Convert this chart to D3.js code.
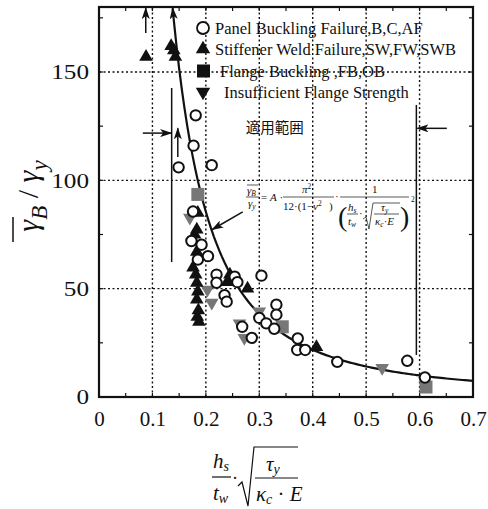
<!DOCTYPE html>
<html>
<head>
<meta charset="utf-8">
<script src="https://cdn.jsdelivr.net/npm/d3@7"></script>
<style>
  body { margin: 0; background: #fff; }
  svg text { font-family: "Liberation Serif", "Times New Roman", serif !important; fill: #111; }
  svg text.cjk { font-family: "Noto Sans CJK JP", sans-serif !important; }
</style>
</head>
<body>
<div id="chart"></div>
<script>
// Panel buckling failure (open circles)
const panelX = [0.181, 0.177, 0.149, 0.211, 0.176, 0.173, 0.192, 0.185, 0.204, 0.220, 0.220, 0.254, 0.259, 0.235, 0.239, 0.304, 0.332, 0.332, 0.300, 0.313, 0.328, 0.268, 0.286, 0.372, 0.371, 0.386, 0.446, 0.577, 0.610];
const panelY = [130, 116, 106, 107, 85.6, 72, 70.3, 63.4, 65, 56.5, 52.7, 55.5, 53, 47, 44, 56, 42.6, 38, 36.5, 34, 31.5, 32.4, 27.3, 27, 21.7, 21.7, 16.2, 16.7, 9];
// Stiffener weld failure (black up triangles)
const weldX = [0.088, 0.135, 0.143, 0.140, 0.185, 0.183, 0.179, 0.183, 0.176, 0.181, 0.183, 0.185, 0.183, 0.186, 0.184, 0.187, 0.245, 0.240, 0.278, 0.407];
const weldY = [157, 162, 157, 160, 85, 77.3, 75, 67, 59.7, 56.5, 52.7, 48.6, 45, 40, 37, 34.7, 56.5, 53, 50, 23];
// Flange buckling (grey squares)
const flangeX = [0.185, 0.343, 0.612];
const flangeY = [93.5, 32.4, 4.6];
// Insufficient flange strength (grey down triangles)
const insuffX = [0.170, 0.203, 0.211, 0.300, 0.263, 0.272, 0.530];
const insuffY = [82.8, 49.5, 43.5, 39.5, 34, 27.3, 13.4];

const xTicks = [0, 0.1, 0.2, 0.3, 0.4, 0.5, 0.6, 0.7];
const yTicks = [0, 50, 100, 150];
const legendLabels = ["Panel Buckling Failure,B,C,AF", "Stiffener Weld Failure,SW,FW,SWB", "Flange Buckling ,FB,OB", "Insufficient Flange Strength"];
// fitted curve  y = k / x^2 + c
const curveK = 3.4, curveC = 0.5;

const W = 488, H = 509;
const svg = d3.select('#chart').append('svg')
  .attr('width', W).attr('height', H)
  .attr('viewBox', [0, 0, W, H]);

const defs = svg.append('defs');
defs.append('marker')
  .attr('id', 'arrow')
  .attr('viewBox', '0 0 12 8')
  .attr('refX', 11).attr('refY', 4)
  .attr('markerWidth', 12).attr('markerHeight', 8)
  .attr('markerUnits', 'userSpaceOnUse')
  .attr('orient', 'auto')
  .append('path').attr('d', 'M0,0 L12,4 L0,8 L3,4 Z').attr('fill', '#111');

const x = d3.scaleLinear().domain([0, 0.7]).range([99, 473]);
const y = d3.scaleLinear().domain([0, 180]).range([397, 7]);

// grid
const grid = svg.append('g').attr('stroke', '#111').attr('stroke-width', 1.4).attr('stroke-dasharray', '2,2.5');
grid.selectAll('.gx').data(xTicks.slice(1, -1)).enter().append('line')
  .attr('x1', d => x(d)).attr('x2', d => x(d)).attr('y1', y(0)).attr('y2', y(180));
grid.selectAll('.gy').data(yTicks.slice(1)).enter().append('line')
  .attr('x1', x(0)).attr('x2', x(0.7)).attr('y1', d => y(d)).attr('y2', d => y(d));

// axes
const minorX = d3.range(0.05, 0.7, 0.05);
const minorY = d3.range(25, 180, 25);
svg.append('g').attr('transform', `translate(0,${y(0)})`)
  .call(d3.axisBottom(x).tickValues(xTicks).tickSize(0).tickPadding(14).tickFormat(d => d === 0 ? '0' : d3.format('.1f')(d)))
  .call(g => g.select('.domain').remove())
  .call(g => g.selectAll('text').attr('font-size', 21).attr('fill', '#111'));
svg.append('g').attr('transform', `translate(${x(0)},0)`)
  .call(d3.axisLeft(y).tickValues(yTicks).tickSize(0).tickPadding(10))
  .call(g => g.select('.domain').remove())
  .call(g => g.selectAll('text').attr('font-size', 21).attr('fill', '#111')
    .attr('textLength', d => String(d).length * 12.6).attr('lengthAdjust', 'spacingAndGlyphs'));

const ticks = svg.append('g').attr('stroke', '#111').attr('stroke-width', 1.2);
ticks.selectAll('.tb').data(minorX).enter().append('line')
  .attr('x1', d => x(d)).attr('x2', d => x(d)).attr('y1', y(0)).attr('y2', y(0) - 4);
ticks.selectAll('.tt').data(minorX).enter().append('line')
  .attr('x1', d => x(d)).attr('x2', d => x(d)).attr('y1', y(180)).attr('y2', y(180) + 4);
ticks.selectAll('.tl').data(minorY).enter().append('line')
  .attr('x1', x(0)).attr('x2', x(0) + 4).attr('y1', d => y(d)).attr('y2', d => y(d));
ticks.selectAll('.tr').data(minorY).enter().append('line')
  .attr('x1', x(0.7)).attr('x2', x(0.7) - 4).attr('y1', d => y(d)).attr('y2', d => y(d));

svg.append('rect')
  .attr('x', x(0)).attr('y', y(180))
  .attr('width', x(0.7) - x(0)).attr('height', y(0) - y(180))
  .attr('fill', 'none').attr('stroke', '#111').attr('stroke-width', 2.2);

// annotation lines
const ann = svg.append('g').attr('stroke', '#111').attr('stroke-width', 1.5).attr('fill', 'none');
ann.append('line').attr('x1', x(0.0875)).attr('x2', x(0.0875)).attr('y1', y(168)).attr('y2', y(179.5)).attr('marker-end', 'url(#arrow)');
ann.append('line').attr('x1', x(0.136)).attr('x2', x(0.136)).attr('y1', y(142.6)).attr('y2', y(62.3));
ann.append('line').attr('x1', x(0.082)).attr('x2', x(0.135)).attr('y1', y(121.8)).attr('y2', y(121.8)).attr('marker-end', 'url(#arrow)');
ann.append('line').attr('x1', x(0.1475)).attr('x2', x(0.1475)).attr('y1', y(110.8)).attr('y2', y(124)).attr('marker-end', 'url(#arrow)');
ann.append('line').attr('x1', x(0.594)).attr('x2', x(0.594)).attr('y1', y(134.8)).attr('y2', y(19.4));
ann.append('line').attr('x1', x(0.651)).attr('x2', x(0.596)).attr('y1', y(124)).attr('y2', y(124)).attr('marker-end', 'url(#arrow)');
ann.append('line').attr('x1', x(0.269)).attr('x2', x(0.212)).attr('y1', y(85.4)).attr('y2', y(77.3)).attr('marker-end', 'url(#arrow)');

svg.append('text').attr('class', 'cjk').attr('x', x(0.329)).attr('y', y(124) + 5)
  .attr('text-anchor', 'middle').attr('font-size', 14.5).text('適用範囲');

// curve
const xStart = Math.sqrt(curveK / (179.5 - curveC));
const curveXs = d3.range(0.7, xStart, -0.005).concat([xStart]);
svg.append('path')
  .datum(curveXs)
  .attr('fill', 'none').attr('stroke', '#111').attr('stroke-width', 2.2)
  .attr('d', d3.line().x(d => x(d)).y(d => y(curveK / (d * d) + curveC)))
  .attr('marker-end', 'url(#arrow)');

// markers
const marks = svg.append('g');
const grey = '#777';
marks.selectAll('.sq').data(flangeX).enter().append('rect')
  .attr('x', d => x(d) - 6.5).attr('y', (d, i) => y(flangeY[i]) - 6.5)
  .attr('width', 13).attr('height', 13).attr('fill', grey);
marks.selectAll('.dn').data(insuffX).enter().append('path')
  .attr('d', d3.symbol(d3.symbolTriangle, 80))
  .attr('transform', (d, i) => `translate(${x(d)},${y(insuffY[i])}) rotate(180)`)
  .attr('fill', grey);
marks.selectAll('.up').data(weldX).enter().append('path')
  .attr('d', d3.symbol(d3.symbolTriangle, 80))
  .attr('transform', (d, i) => `translate(${x(d)},${y(weldY[i])})`)
  .attr('fill', '#111');
marks.selectAll('.ci').data(panelX).enter().append('circle')
  .attr('cx', d => x(d)).attr('cy', (d, i) => y(panelY[i]))
  .attr('r', 5.2).attr('fill', '#fff').attr('stroke', '#111').attr('stroke-width', 2);

// legend
const legY = [28, 49, 71, 92];
const legTextX = [215, 215, 220, 224];
const leg = svg.append('g');
leg.append('circle').attr('cx', 203).attr('cy', legY[0]).attr('r', 6).attr('fill', '#fff').attr('stroke', '#111').attr('stroke-width', 1.8);
leg.append('path').attr('d', d3.symbol(d3.symbolTriangle, 90)).attr('transform', `translate(203,${legY[1]})`).attr('fill', '#111');
leg.append('rect').attr('x', 197).attr('y', legY[2] - 6.5).attr('width', 13).attr('height', 13).attr('fill', '#111');
leg.append('path').attr('d', d3.symbol(d3.symbolTriangle, 90)).attr('transform', `translate(203,${legY[3]}) rotate(180)`).attr('fill', '#111');
leg.selectAll('text').data(legendLabels).enter().append('text')
  .attr('x', (d, i) => legTextX[i]).attr('y', (d, i) => legY[i] + 6)
  .attr('font-size', 16.5).text(d => d);

// formula in plot
const fs = 11, fss = 7.5;
const f = svg.append('g').attr('font-size', fs).attr('font-style', 'italic');
const fl = svg.append('g').attr('stroke', '#111').attr('stroke-width', 0.7).attr('fill', 'none');
f.append('text').attr('x', 247).attr('y', 194).text('γ').append('tspan').attr('font-size', fss).attr('dy', 2).text('B');
fl.append('line').attr('x1', 247).attr('x2', 258).attr('y1', 185).attr('y2', 185);
fl.append('line').attr('x1', 246).attr('x2', 259).attr('y1', 197).attr('y2', 197);
f.append('text').attr('x', 248).attr('y', 207).text('γ').append('tspan').attr('font-size', fss).attr('dy', 2).text('y');
f.append('text').attr('x', 261).attr('y', 201).attr('font-style', 'normal').text('= ').append('tspan').attr('font-style', 'italic').text('A').append('tspan').attr('font-style', 'normal').text(' ·');
f.append('text').attr('x', 302).attr('y', 193).text('π').append('tspan').attr('font-size', fss).attr('dy', -4).attr('font-style', 'normal').text('2');
fl.append('line').attr('x1', 283).attr('x2', 334).attr('y1', 197).attr('y2', 197);
f.append('text').attr('x', 283).attr('y', 210).attr('font-style', 'normal').text('12·(1−').append('tspan').attr('font-style', 'italic').text('ν').append('tspan').attr('font-size', fss).attr('dy', -4).attr('font-style', 'normal').text('2');
f.append('text').attr('x', 329).attr('y', 210).attr('font-style', 'normal').text(')');
f.append('text').attr('x', 335).attr('y', 200).attr('font-style', 'normal').text('·');
f.append('text').attr('x', 372).attr('y', 193).attr('font-style', 'normal').text('1');
fl.append('line').attr('x1', 340).attr('x2', 409).attr('y1', 197).attr('y2', 197);
f.append('text').attr('x', 338).attr('y', 226).attr('font-size', 28).attr('font-style', 'normal').text('(');
f.append('text').attr('x', 400).attr('y', 226).attr('font-size', 28).attr('font-style', 'normal').text(')');
f.append('text').attr('x', 411).attr('y', 202).attr('font-size', fss).attr('font-style', 'normal').text('2');
f.append('text').attr('x', 348).attr('y', 211).text('h').append('tspan').attr('font-size', fss).attr('dy', 2).text('s');
fl.append('line').attr('x1', 347).attr('x2', 358).attr('y1', 214).attr('y2', 214);
f.append('text').attr('x', 348).attr('y', 225).text('t').append('tspan').attr('font-size', fss).attr('dy', 2).text('w');
f.append('text').attr('x', 359).attr('y', 217).attr('font-style', 'normal').text('·');
fl.append('path').attr('d', 'M363,219 L366,217 L369,229 L373,203 L400,203');
f.append('text').attr('x', 381).attr('y', 211).text('τ').append('tspan').attr('font-size', fss).attr('dy', 2).text('y');
fl.append('line').attr('x1', 374).attr('x2', 399).attr('y1', 214).attr('y2', 214);
f.append('text').attr('x', 375).attr('y', 225).text('κ').append('tspan').attr('font-size', fss).attr('dy', 2).text('c').append('tspan').attr('dy', -2).attr('font-size', fs).attr('font-style', 'normal').text('·').append('tspan').attr('font-style', 'italic').text('E');

// x label
const xl = svg.append('g').attr('font-style', 'italic');
const xls = svg.append('g').attr('stroke', '#111').attr('stroke-width', 1.2).attr('fill', 'none');
xl.append('text').attr('x', 213).attr('y', 468).attr('font-size', 21).text('h').append('tspan').attr('font-size', 14).attr('dy', 3).text('s');
xls.append('line').attr('x1', 212).attr('x2', 231).attr('y1', 477).attr('y2', 477);
xl.append('text').attr('x', 213).attr('y', 500).attr('font-size', 21).text('t').append('tspan').attr('font-size', 14).attr('dy', 3).text('w');
xl.append('text').attr('x', 232).attr('y', 484).attr('font-size', 18).attr('font-style', 'normal').text('·');
xls.append('path').attr('d', 'M238,486 L242,482 L248,506 L254,447 L298,447');
xl.append('text').attr('x', 266).attr('y', 471).attr('font-size', 21).text('τ').append('tspan').attr('font-size', 14).attr('dy', 3).text('y');
xls.append('line').attr('x1', 255).attr('x2', 298).attr('y1', 478).attr('y2', 478);
xl.append('text').attr('x', 256).attr('y', 501).attr('font-size', 21).text('κ').append('tspan').attr('font-size', 14).attr('dy', 3).text('c')
  .append('tspan').attr('font-size', 21).attr('dy', -3).attr('font-style', 'normal').text(' · ').append('tspan').attr('font-style', 'italic').text('E');

// y label
const yl = svg.append('g').attr('transform', 'translate(38,196) rotate(-90)');
const ylt = yl.append('text').attr('text-anchor', 'middle').attr('font-size', 30).attr('font-style', 'italic');
ylt.append('tspan').text('γ');
ylt.append('tspan').attr('font-size', 23).attr('dy', 9).text('B');
ylt.append('tspan').attr('dy', -9).attr('font-style', 'normal').text(' / ');
ylt.append('tspan').text('γ');
ylt.append('tspan').attr('font-size', 23).attr('dy', 9).text('y');
yl.append('line').attr('x1', -46).attr('x2', -21).attr('y1', -25).attr('y2', -25).attr('stroke', '#111').attr('stroke-width', 1.5);
</script>
</body>
</html>
